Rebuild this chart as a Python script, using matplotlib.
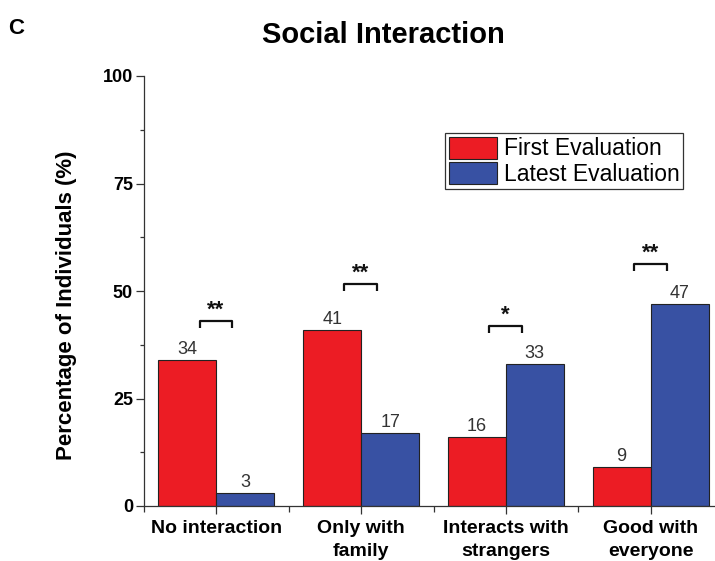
import matplotlib.pyplot as plt
import numpy as np
from matplotlib.ticker import FixedLocator

plt.rcParams['font.family'] = ['Liberation Sans', 'DejaVu Sans']

# Social interaction, % of individuals per category.
CATEGORIES: list[str] = ['No interaction', 'Only with\nfamily', 'Interacts with\nstrangers', 'Good with\neveryone']
FIRST: list[int] = [34, 41, 16, 9]
LATEST: list[int] = [3, 17, 33, 47]
SERIES: list[str] = ['First Evaluation', 'Latest Evaluation']
# significance markers, and the height of the bracket above each group
STARS: list[str] = ['**', '**', '*', '**']
BRACKET_Y: list[float] = [43.0, 51.6, 41.9, 56.3]

RED = '#ec1c24'
BLUE = '#3851a3'
W = 0.4

fig = plt.figure(figsize=(7.15, 5.61), dpi=100)
# the right end of the x axis runs off the picture, as in the reference
ax = fig.add_axes([144 / 715, 55 / 561, 579 / 715, 430 / 561])

x = np.arange(len(CATEGORIES))
b1 = ax.bar(x - W / 2, FIRST, W, color=RED, edgecolor='#222222', linewidth=0.8, label=SERIES[0])
b2 = ax.bar(x + W / 2, LATEST, W, color=BLUE, edgecolor='#222222', linewidth=0.8, label=SERIES[1])

for bars in (b1, b2):
    for r in bars:
        ax.annotate(f'{int(r.get_height())}', (r.get_x() + r.get_width() / 2, r.get_height()),
                    xytext=(0, 1.5), textcoords='offset points', ha='center', va='bottom',
                    fontsize=13, color='#333333')

# brackets with stars
for i, (s, y) in enumerate(zip(STARS, BRACKET_Y)):
    x0, x1 = i - 0.115, i + 0.11
    ax.plot([x0, x0, x1, x1], [y - 1.6, y, y, y - 1.6], color='#111111', lw=1.6,
            solid_capstyle='butt', clip_on=False)
    ax.text((x0 + x1) / 2, y + 0.1, s, ha='center', va='bottom', fontsize=16,
            fontweight='bold', color='#111111')

ax.set_xlim(-0.5, 3.5)
ax.set_ylim(0, 100)
ax.set_xticks(x)
ax.set_xticklabels(CATEGORIES, fontsize=14, fontweight='bold', linespacing=1.45)
ax.xaxis.set_minor_locator(FixedLocator([-0.5, 0.5, 1.5, 2.5]))
ax.set_yticks([0, 25, 50, 75, 100])
ax.yaxis.set_minor_locator(FixedLocator([12.5, 37.5, 62.5, 87.5]))
for lab in ax.get_yticklabels():
    lab.set_fontweight('bold')
    lab.set_fontsize(13)

ax.tick_params(axis='both', which='major', direction='out', length=6, width=0.9, color='#333333')
ax.tick_params(axis='y', which='minor', direction='out', length=3, width=0.9, color='#333333')
ax.tick_params(axis='x', which='minor', direction='out', length=4, width=0.9, color='#333333')
ax.tick_params(axis='x', which='major', pad=4)
ax.tick_params(axis='y', which='major', pad=2)

ax.spines['top'].set_visible(False)
ax.spines['right'].set_visible(False)
for sp in ('left', 'bottom'):
    ax.spines[sp].set_color('#333333')
    ax.spines[sp].set_linewidth(0.9)

leg = ax.legend(loc='upper right', bbox_to_anchor=(0.931, 0.867), fontsize=16.5,
                frameon=True, fancybox=False, edgecolor='#333333', framealpha=1,
                handlelength=2.1, handleheight=1.1, handletextpad=0.3,
                labelspacing=0.08, borderpad=0.15, borderaxespad=0)
leg.get_frame().set_linewidth(0.9)

fig.text(67 / 715, 1 - 305 / 561, 'Percentage of Individuals (%)', rotation=90,
         ha='center', va='center', fontsize=16, fontweight='bold')
fig.text(383 / 715, 1 - 35 / 561, 'Social Interaction', ha='center', va='center',
         fontsize=21, fontweight='bold')
fig.text(8 / 715, 1 - 28 / 561, 'C', ha='left', va='center', fontsize=16, fontweight='bold')

fig.savefig('out.png', dpi=100)
